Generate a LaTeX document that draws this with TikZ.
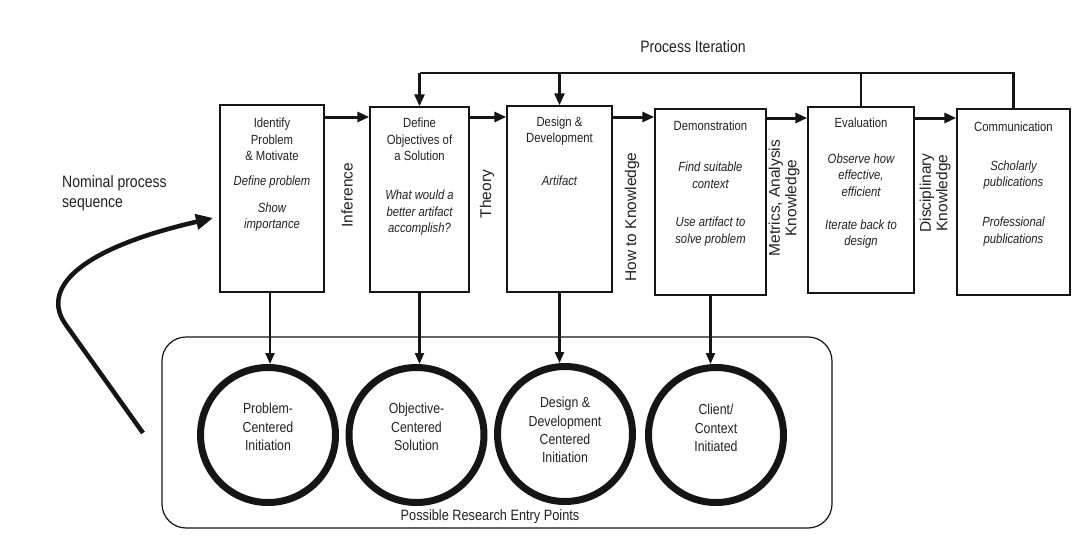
\documentclass[tikz,border=0pt]{standalone}
\usepackage{fontspec}
\setmainfont{Liberation Sans}[FakeStretch=0.85]
\newfontfamily\vfont{Liberation Sans}
\usetikzlibrary{arrows.meta}
\definecolor{ink}{HTML}{151515}
\definecolor{txt}{HTML}{222222}
\begin{document}
\begin{tikzpicture}[x=1pt,y=1pt,
  box/.style={draw=ink, line width=1.4pt, fill=white, inner sep=0pt},
  btxt/.style={align=center, inner sep=0pt, text=txt, font=\fontsize{13.3}{16.5}\selectfont},
  itxt/.style={btxt, font=\fontsize{13.3}{16.5}\selectfont\itshape},
  ctxt/.style={align=center, inner sep=0pt, text=txt, font=\fontsize{14.5}{18.3}\selectfont},
  vlab/.style={rotate=90, align=center, inner sep=0pt, text=txt, font=\vfont\fontsize{15.5}{16.5}\selectfont},
  entry/.style={circle, draw=ink, line width=7pt, minimum size=135pt, inner sep=0pt},
  flowarr/.style={draw=ink, line width=3pt, -{Triangle[length=12pt,width=10pt]}},
  iterline/.style={draw=ink, line width=2.6pt},
  iterarr/.style={draw=ink, line width=2.6pt, -{Triangle[length=12pt,width=10pt]}},
  downarr/.style={draw=ink, line width=2.2pt, -{Triangle[length=11pt,width=9pt]}},
  bigarr/.style={draw=ink, line width=4.5pt, -{Triangle[length=17pt,width=15pt]}},
  lbl/.style={inner sep=0pt, text=txt}
]
\useasboundingbox[fill=white] (0,0) rectangle (1085,-535);

% container of entry points
\node[draw=ink, line width=1.2pt, rounded corners=24pt, minimum width=670pt, minimum height=191pt, inner sep=0pt] (frame) at (497,-432.5) {};
\node[lbl, font=\fontsize{15}{18}\selectfont] (frlab) at (490,-517) {Possible Research Entry Points};

% process boxes
\node[box, minimum width=104pt, minimum height=187pt] (b1) at (272,-198.5) {};
\node[box, minimum width=99pt,  minimum height=185pt] (b2) at (419.5,-199.5) {};
\node[box, minimum width=105pt, minimum height=186pt] (b3) at (559.5,-199) {};
\node[box, minimum width=111pt, minimum height=186pt] (b4) at (710.5,-202) {};
\node[box, minimum width=106pt, minimum height=186pt] (b5) at (861,-200) {};
\node[box, minimum width=113pt, minimum height=186pt] (b6) at (1013.5,-202) {};

% box texts
\node[btxt] (t1a) at (272,-139.5) {Identify\\Problem\\\& Motivate};
\node[itxt] (t1b) at (272,-182) {Define problem};
\node[itxt] (t1c) at (272,-217) {Show\\importance};

\node[btxt] (t2a) at (419.5,-139.7) {Define\\Objectives of\\a Solution};
\node[itxt] (t2b) at (419.5,-213) {What would a\\better artifact\\accomplish?};

\node[btxt] (t3a) at (559.5,-131) {Design \&\\Development};
\node[itxt] (t3b) at (559.5,-181) {Artifact};

\node[btxt] (t4a) at (710.5,-126) {Demonstration};
\node[itxt] (t4b) at (710.5,-175) {Find suitable\\context};
\node[itxt] (t4c) at (710.5,-231.5) {Use artifact to\\solve problem};

\node[btxt] (t5a) at (861,-123) {Evaluation};
\node[itxt] (t5b) at (861,-175) {Observe how\\effective,\\efficient};
\node[itxt] (t5c) at (861,-234) {Iterate back to\\design};

\node[btxt] (t6a) at (1013.5,-127) {Communication};
\node[itxt] (t6b) at (1013.5,-175) {Scholarly\\publications};
\node[itxt] (t6c) at (1013.5,-231.5) {Professional\\publications};

% vertical labels
\node[vlab] (l1) at (347,-195) {Inference};
\node[vlab] (l2) at (487,-194) {Theory};
\node[vlab] (l3) at (632,-217) {How to Knowledge};
\node[vlab] (l4) at (784,-198) {Metrics, Analysis\\Knowledge};
\node[vlab] (l5) at (935,-193) {Disciplinary\\Knowledge};

% flow arrows
\coordinate (ya) at (0,-117);
\coordinate (yb) at (0,-118);
\draw[flowarr] (b1.east |- ya) -- (b2.west |- ya);
\draw[flowarr] (b2.east |- ya) -- (b3.west |- ya);
\draw[flowarr] (b3.east |- ya) -- (b4.west |- ya);
\draw[flowarr] (b4.east |- yb) -- (b5.west |- yb);
\draw[flowarr] (b5.east |- yb) -- (b6.west |- yb);

% process iteration
\coordinate (it) at (0,-73);
\node[lbl, font=\fontsize{16.5}{20}\selectfont] (itlab) at (693,-47) {Process Iteration};
\draw[iterline, line join=miter] (b6.north) -- (b6.north |- it) -- (b2.north |- it);
\draw[iterline] (b5.north) -- (b5.north |- it);
\draw[iterarr] (b2.north |- it) -- (b2.north);
\draw[iterarr] (b3.north |- it) -- (b3.north);

% entry circles
\node[entry] (c1) at (268,-435) {};
\node[entry] (c2) at (416.5,-435) {};
\node[entry] (c3) at (565,-434) {};
\node[entry] (c4) at (716,-435) {};
\node[ctxt] (ct1) at (268,-427) {Problem-\\Centered\\Initiation};
\node[ctxt] (ct2) at (416.5,-427) {Objective-\\Centered\\Solution};
\node[ctxt] (ct3) at (565,-430) {Design \&\\Development\\Centered\\Initiation};
\node[ctxt] (ct4) at (716,-428) {Client/\\Context\\Initiated};

\draw[downarr] (b1.south -| c1.north) ++(2,0) coordinate (d1) -- (d1 |- c1.north);
\draw[downarr] (b2.south) -- (b2.south |- c2.north);
\draw[downarr] (b3.south) -- (b3.south |- c3.north);
\draw[downarr] (b4.south) -- (b4.south |- c4.north);

% nominal process sequence
\node[lbl, anchor=west, align=left, font=\fontsize{16.5}{20}\selectfont] (nom) at (62,-193) {Nominal process\\sequence};
\coordinate (ns) at (143,-433);
\coordinate (nb) at (66,-325);
\coordinate (ne) at (213,-218);
\draw[bigarr] (ns) -- (nb) .. controls (40,-289) and (78,-249) .. (ne);
\end{tikzpicture}
\end{document}
